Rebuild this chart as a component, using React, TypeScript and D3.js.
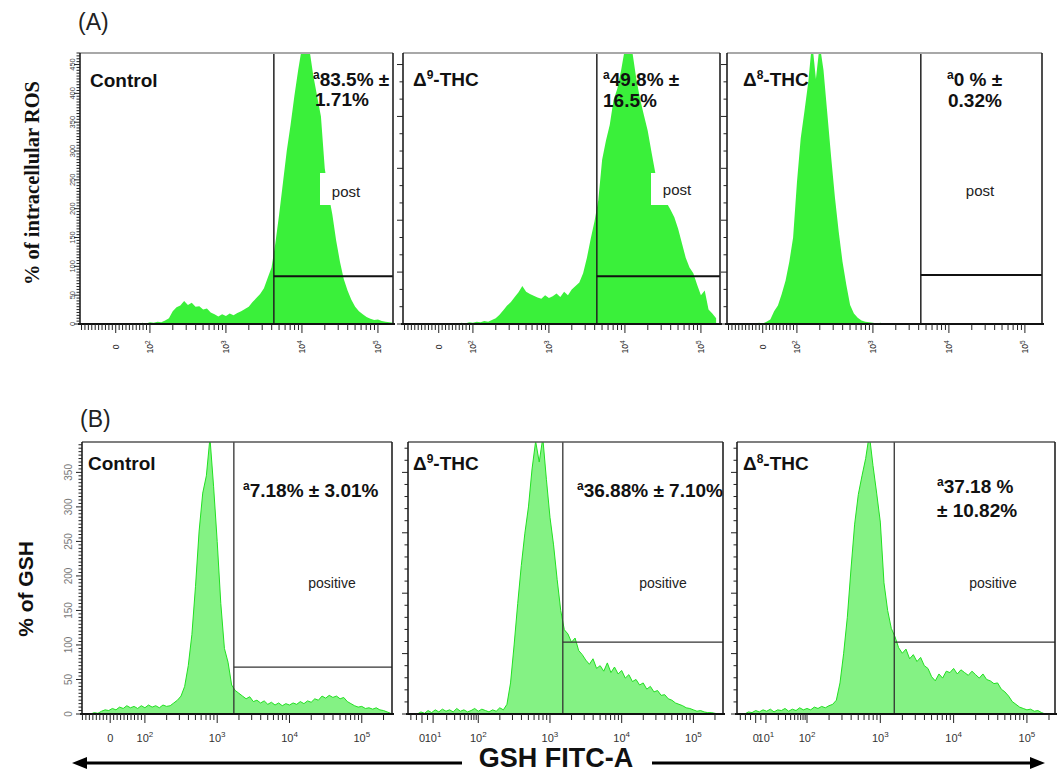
import React from 'react';
import * as d3 from 'd3';

// ---------- DATA ----------
// channel bins in log10 units (logicle-like display), bin width:
const BIN = 0.05;

// (A) intracellular ROS histograms (event counts per bin)
const rosControlStart = 1.85;
const rosControl = [0,2,1,3,2,4,3,6,10,22,29,32,40,33,37,30,31,25,27,20,17,13,17,14,18,15,19,22,26,30,38,45,52,62,80,98,140,190,245,300,345,395,440,480,490,475,430,395,360,270,225,190,145,108,78,58,42,30,22,17,12,9,7,8,5,4,3,2];
const rosD9Start = 1.8;
const rosD9 = [0,2,1,3,2,4,3,5,4,7,10,16,24,32,38,47,55,66,56,52,49,46,44,50,45,48,53,47,56,50,60,66,72,88,115,148,178,215,285,318,345,388,408,440,478,490,470,425,390,362,335,298,262,240,225,210,198,185,165,140,115,98,88,68,50,58,25,18,10];
const rosD8Start = 1.45;
const rosD8 = [0,2,1,4,8,22,32,52,75,108,150,245,322,370,420,490,425,485,440,365,290,220,160,108,68,33,18,11,6,4,3,2,1,2,0];

// (B) GSH histograms
const gshControlStart = 1.25;
const gshControl = [0,2,1,4,6,5,8,6,10,8,12,9,11,8,12,9,13,10,12,9,13,11,12,16,20,26,40,70,115,185,265,320,345,400,330,250,160,95,75,42,34,30,26,22,25,18,20,16,19,14,17,13,16,12,15,13,16,14,18,15,19,17,22,20,26,23,27,24,26,22,24,18,15,12,10,11,8,9,7,9,6,5,3,1];
const gshD9Start = 1.15;
const gshD9 = [0,3,1,5,2,6,3,7,4,6,3,8,4,6,3,5,8,4,7,5,3,6,4,9,6,14,45,100,160,215,262,300,355,395,365,400,340,285,245,195,150,122,116,104,110,92,86,78,72,80,66,70,62,74,60,68,58,63,52,57,47,50,42,45,36,40,32,34,27,28,22,20,16,14,12,9,8,6,4,5,3,2,2,1,0];
const gshD8Start = 1.15;
const gshD8 = [0,3,2,5,3,6,4,7,3,6,5,8,4,7,5,9,6,8,6,10,8,11,9,12,14,20,45,88,140,210,275,318,345,370,405,360,320,278,190,150,124,112,96,88,94,80,86,76,82,70,66,54,48,58,52,62,60,66,58,64,60,56,62,57,52,58,50,48,44,45,36,32,26,18,14,10,8,6,7,4,5,2,0];

// gates (raw fluorescence threshold, count level of marker bar)
const rosGates = [4270, 4270, 4270];
const rosGateLevels = [83, 83, 85];
const gshGates = [1700, 1510, 1550];
const gshGateLevels = [68, 104, 104];

// statistics
const rosStats = [['83.5% \u00b1', '1.71%'], ['49.8% \u00b1', '16.5%'], ['0 % \u00b1', '0.32%']];
const gshStats = [['7.18% \u00b1 3.01%'], ['36.88% \u00b1 7.10%'], ['37.18 %', '\u00b1 10.82%']];

// sample names
const samples = [
  { base: 'Control' },
  { base: '\u0394', sup: '9', rest: '-THC' },
  { base: '\u0394', sup: '8', rest: '-THC' },
];

// axis tick labels
const rosYLabels = [0, 50, 100, 150, 200, 250, 300, 350, 400, 450];
const gshYLabels = [0, 50, 100, 150, 200, 250, 300, 350];
const xLabelsStd = [
  { v: 0, base: '0' },
  { v: 1e2, base: '10', sup: '2' },
  { v: 1e3, base: '10', sup: '3' },
  { v: 1e4, base: '10', sup: '4' },
  { v: 1e5, base: '10', sup: '5' },
];
const xLabels10 = [
  { v: 0, base: '0' },
  { v: 10, base: '10', sup: '1' },
  { v: 1e2, base: '10', sup: '2' },
  { v: 1e3, base: '10', sup: '3' },
  { v: 1e4, base: '10', sup: '4' },
  { v: 1e5, base: '10', sup: '5' },
];

// ---------- LAYOUT ----------
type Panel = {
  id: string; row: 'A' | 'B'; x0: number; y0: number; w: number; h: number;
  dom: [number, number]; zero: number; d10?: number; yMax: number;
  data: number[]; start: number; gate: number; gateLevel: number;
  stats: string[]; statPos: [number, number][]; sample: any; samplePos: [number, number];
  gateLabelPos: [number, number]; xLabels: any[]; yLabels?: number[]; yStep: number; yMajorEvery: number;
};

const A_TOP = 53, A_H = 271, B_TOP = 442, B_H = 272;

const panels: Panel[] = [
  { id: 'a1', row: 'A', x0: 80, y0: A_TOP, w: 313, h: A_H, dom: [1.08, 5.198], zero: 1.55, yMax: 470,
    data: rosControl, start: rosControlStart, gate: rosGates[0], gateLevel: rosGateLevels[0],
    stats: rosStats[0], statPos: [[233, 33], [235, 53]], sample: samples[0], samplePos: [10, 34],
    gateLabelPos: [266, 144], xLabels: xLabelsStd, yLabels: rosYLabels, yStep: 5, yMajorEvery: 10 },
  { id: 'a2', row: 'A', x0: 403, y0: A_TOP, w: 317, h: A_H, dom: [1.08, 5.251], zero: 1.55, yMax: 470,
    data: rosD9, start: rosD9Start, gate: rosGates[1], gateLevel: rosGateLevels[1],
    stats: rosStats[1], statPos: [[200, 33], [200, 54]], sample: samples[1], samplePos: [10, 33],
    gateLabelPos: [274, 142], xLabels: xLabelsStd, yStep: 30, yMajorEvery: 3 },
  { id: 'a3', row: 'A', x0: 727, y0: A_TOP, w: 315, h: A_H, dom: [1.08, 5.225], zero: 1.55, yMax: 470,
    data: rosD8, start: rosD8Start, gate: rosGates[2], gateLevel: rosGateLevels[2],
    stats: rosStats[2], statPos: [[220, 33], [221, 54]], sample: samples[2], samplePos: [16, 33],
    gateLabelPos: [253, 143], xLabels: xLabelsStd, yStep: 30, yMajorEvery: 3 },
  { id: 'b1', row: 'B', x0: 82, y0: B_TOP, w: 310, h: B_H, dom: [1.13, 5.418], zero: 1.52, yMax: 394,
    data: gshControl, start: gshControlStart, gate: gshGates[0], gateLevel: gshGateLevels[0],
    stats: gshStats[0], statPos: [[161, 55]], sample: samples[0], samplePos: [6, 28],
    gateLabelPos: [250, 146], xLabels: xLabelsStd, yLabels: gshYLabels, yStep: 5, yMajorEvery: 10 },
  { id: 'b2', row: 'B', x0: 408, y0: B_TOP, w: 315, h: B_H, dom: [1.02, 5.413], zero: 1.215, d10: 1.37, yMax: 394,
    data: gshD9, start: gshD9Start, gate: gshGates[1], gateLevel: gshGateLevels[1],
    stats: gshStats[1], statPos: [[169, 55]], sample: samples[1], samplePos: [5, 28],
    gateLabelPos: [255, 146], xLabels: xLabels10, yStep: 17.5, yMajorEvery: 5 },
  { id: 'b3', row: 'B', x0: 737, y0: B_TOP, w: 318, h: B_H, dom: [1.045, 5.383], zero: 1.3, d10: 1.44, yMax: 394,
    data: gshD8, start: gshD8Start, gate: gshGates[2], gateLevel: gshGateLevels[2],
    stats: gshStats[2], statPos: [[200, 51], [200, 75]], sample: samples[2], samplePos: [6, 28],
    gateLabelPos: [256, 146], xLabels: xLabels10, yStep: 17.5, yMajorEvery: 5 },
];

const SANS = "'Liberation Sans', Arial, Helvetica, sans-serif";
const SERIF = "'Liberation Serif', 'Times New Roman', serif";

// logicle-like display transform: raw value -> channel (log10 units)
function chan(v: number, p: Panel) {
  if (v >= 100) return Math.log10(v);
  if (p.d10 != null) {
    if (v >= 10) return p.d10 + (Math.log10(v) - 1) * (2 - p.d10);
    return p.zero + (p.d10 - p.zero) * v / 10;
  }
  return p.zero + (2 - p.zero) * v / 100;
}

function xTickList(p: Panel) {
  const out: { d: number; major: boolean }[] = [];
  if (p.d10 != null) {
    for (let v = -20; v < 10; v += 5) out.push({ d: chan(v, p), major: v === 0 });
    for (let m = 1; m <= 9; m++) out.push({ d: chan(m * 10, p), major: m === 1 });
  } else {
    for (let v = -200; v < 100; v += 10) out.push({ d: chan(v, p), major: v === 0 });
  }
  for (let k = 2; k <= 5; k++) {
    for (let m = 1; m <= 9; m++) out.push({ d: chan(m * Math.pow(10, k), p), major: m === 1 });
  }
  return out.filter(t => t.d >= p.dom[0] && t.d <= p.dom[1]);
}

function PanelView({ p }: { p: Panel }) {
  const x = d3.scaleLinear().domain(p.dom).range([p.x0, p.x0 + p.w]);
  const y = d3.scaleLinear().domain([0, p.yMax]).range([p.y0 + p.h, p.y0]);
  const pts: [number, number][] = p.data.map((c, i) => [p.start + i * BIN, c]);
  const area = d3.area<[number, number]>().x(d => x(d[0])).y0(y(0)).y1(d => y(d[1]));
  const line = d3.line<[number, number]>().x(d => x(d[0])).y(d => y(d[1]));
  const clipId = `clip-${p.id}`;
  const bottom = p.y0 + p.h;
  const right = p.x0 + p.w;
  const gx = x(chan(p.gate, p));
  const gy = y(p.gateLevel);
  const isA = p.row === 'A';
  const xt = xTickList(p);
  const yTicks = d3.range(0, p.yMax + 0.001, p.yStep);

  return (
    <g>
      <defs>
        <clipPath id={clipId}>
          <rect x={p.x0} y={p.y0} width={p.w} height={p.h} />
        </clipPath>
      </defs>
      <g clipPath={`url(#${clipId})`}>
        <path d={area(pts) || ''} fill={isA ? '#3af03a' : '#84f284'} />
        {!isA && <path d={line(pts) || ''} fill="none" stroke="#22e022" strokeWidth={1} />}
      </g>
      {/* gate marker */}
      <line x1={gx} x2={gx} y1={p.y0} y2={bottom} stroke={isA ? '#222' : '#333'} strokeWidth={isA ? 1.5 : 1.3} />
      <line x1={gx} x2={right} y1={gy} y2={gy} stroke={isA ? '#111' : '#333'} strokeWidth={isA ? 2 : 1.3} />
      {/* gate label */}
      {isA && (
        <rect x={p.x0 + p.gateLabelPos[0] - 26} y={p.y0 + 120} width={52} height={32} fill="#fff" />
      )}
      <text x={p.x0 + p.gateLabelPos[0]} y={p.y0 + p.gateLabelPos[1]} textAnchor="middle"
        fontSize={isA ? 15 : 14} fill="#222" fontFamily={SANS}>{isA ? 'post' : 'positive'}</text>
      {/* frame */}
      <line x1={p.x0} x2={right} y1={p.y0} y2={p.y0} stroke={isA ? '#a8a8a8' : '#555'} strokeWidth={isA ? 2 : 1.5} />
      <line x1={right} x2={right} y1={p.y0} y2={bottom} stroke="#222" strokeWidth={1.6} />
      <line x1={p.x0} x2={p.x0} y1={p.y0} y2={bottom} stroke="#111" strokeWidth={1.5} />
      <line x1={p.x0 - 2} x2={right + 2} y1={bottom} y2={bottom} stroke="#111" strokeWidth={2} />
      {/* x ticks */}
      {xt.map((t, i) => (
        <line key={i} x1={x(t.d)} x2={x(t.d)} y1={bottom} y2={bottom + (t.major ? 9 : 6)} stroke="#222" strokeWidth={1} />
      ))}
      {p.xLabels.map((l, i) => {
        const lx = x(chan(l.v, p));
        if (isA) {
          return (
            <text key={i} transform={`translate(${lx},${bottom + 23}) rotate(-90)`} textAnchor="middle"
              dominantBaseline="central" fontSize={8.5} fill="#222" fontFamily={SANS}>
              {l.base}{l.sup && <tspan fontSize={6.5} dy={-3}>{l.sup}</tspan>}
            </text>
          );
        }
        return (
          <text key={i} x={lx} y={bottom + 28} textAnchor="middle" fontSize={11} fill="#333" fontFamily={SANS}>
            {l.base}{l.sup && <tspan fontSize={8} dy={-5}>{l.sup}</tspan>}
          </text>
        );
      })}
      {/* y ticks */}
      {yTicks.map((v, i) => {
        const major = i % p.yMajorEvery === 0;
        return <line key={i} x1={p.x0 - (major ? 6 : 3.5)} x2={p.x0} y1={y(v)} y2={y(v)} stroke="#222" strokeWidth={1} />;
      })}
      {p.yLabels && p.yLabels.map((v, i) => (
        <text key={i} transform={`translate(${p.x0 - (isA ? 8 : 14)},${y(v)}) rotate(-90)`} textAnchor="middle"
          dominantBaseline="central" fontSize={isA ? 7.5 : 10} fill={isA ? '#444' : '#777'} fontFamily={SANS}>{v}</text>
      ))}
      {/* sample label */}
      <text x={p.x0 + p.samplePos[0]} y={p.y0 + p.samplePos[1]} fontSize={19} fontWeight="bold" fill="#111" fontFamily={SANS}>
        <tspan>{p.sample.base}</tspan>
        {p.sample.sup && <tspan fontSize={12} dy={-7}>{p.sample.sup}</tspan>}
        {p.sample.rest && <tspan dy={7}>{p.sample.rest}</tspan>}
      </text>
      {/* statistics */}
      {p.stats.map((s, i) => (
        <text key={i} x={p.x0 + p.statPos[i][0]} y={p.y0 + p.statPos[i][1]} fontSize={19} fontWeight="bold" fill="#111" fontFamily={SANS}>
          {i === 0 && <tspan fontSize={12} dy={-7}>a</tspan>}
          <tspan dy={i === 0 ? 7 : 0}>{s}</tspan>
        </text>
      ))}
    </g>
  );
}

export default function App() {
  return (
    <svg width={1061} height={775} style={{ position: 'absolute', left: 0, top: 0, display: 'block' }} fontFamily={SANS}>
      <rect x={0} y={0} width={1061} height={775} fill="#fff" />
      <text x={78} y={30} fontSize={23} fill="#222" fontFamily={SANS}>(A)</text>
      <text x={80} y={427} fontSize={23} fill="#222" fontFamily={SANS}>(B)</text>
      <text transform="translate(39,183) rotate(-90)" textAnchor="middle" fontFamily={SERIF} fontWeight="bold" fontSize={20.5} fill="#111">
        % of intracellular ROS
      </text>
      <text transform="translate(33,589) rotate(-90)" textAnchor="middle" fontFamily={SANS} fontWeight="bold" fontSize={21} fill="#111">
        % of GSH
      </text>
      {panels.map(p => <PanelView key={p.id} p={p} />)}
      {/* bottom axis title with arrows */}
      <line x1={462} x2={84} y1={763} y2={763} stroke="#000" strokeWidth={3} />
      <path d="M72,763 L87,757 L87,769 Z" fill="#000" />
      <line x1={652} x2={1031} y1={763} y2={763} stroke="#000" strokeWidth={3} />
      <path d="M1045,763 L1030,757 L1030,769 Z" fill="#000" />
      <text x={556} y={767} textAnchor="middle" fontSize={27} fontWeight="bold" fill="#111" fontFamily={SANS}>GSH FITC-A</text>
    </svg>
  );
}
